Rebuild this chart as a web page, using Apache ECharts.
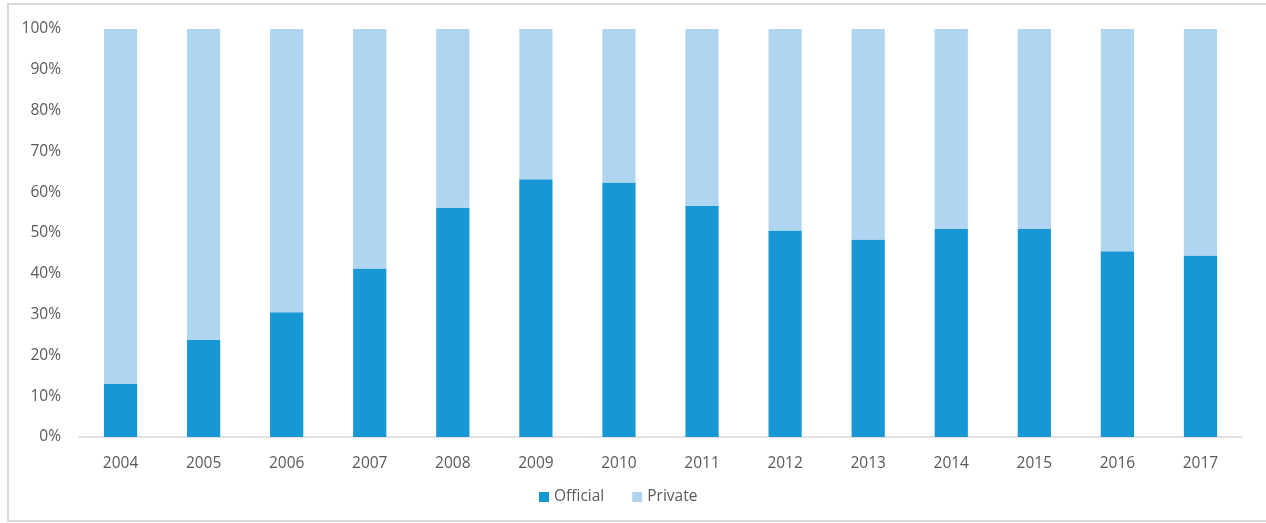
<!DOCTYPE html>
<html>
<head>
<meta charset="utf-8">
<script src="https://cdn.jsdelivr.net/npm/echarts@6/dist/echarts.min.js"></script>
<style>
html,body{margin:0;padding:0;background:#fff;}
#chart{width:1266px;height:523px;}
</style>
</head>
<body>
<div id="chart"></div>
<script>
const years = ['2004','2005','2006','2007','2008','2009','2010','2011','2012','2013','2014','2015','2016','2017'];
const official = [13.0, 23.8, 30.6, 41.3, 56.2, 63.2, 62.4, 56.7, 50.6, 48.4, 51.0, 51.0, 45.5, 44.5];
const privateShare = [87.0, 76.2, 69.4, 58.7, 43.8, 36.8, 37.6, 43.3, 49.4, 51.6, 49.0, 49.0, 54.5, 55.5];
const seriesNames = ['Official', 'Private'];

const chart = echarts.init(document.getElementById('chart'), null, {renderer: 'canvas'});
const font = '"Open Sans", "Noto Sans", sans-serif';
chart.setOption({
  animation: false,
  textStyle: {fontFamily: font},
  graphic: [{
    type: 'rect',
    shape: {x: 8, y: 4, width: 1270, height: 517},
    style: {fill: 'none', stroke: '#d9d9d9', lineWidth: 2},
    silent: true, z: -10
  }],
  grid: {left: 79, right: 24, top: 29, bottom: 86},
  legend: {
    data: seriesNames,
    bottom: 13,
    left: 534,
    itemWidth: 10,
    itemHeight: 10,
    itemGap: 28,
    icon: 'rect',
    textStyle: {fontFamily: font, fontSize: 15.5, color: '#595959'}
  },
  xAxis: {
    type: 'category',
    data: years,
    axisLine: {lineStyle: {color: '#d9d9d9', width: 1.5}},
    axisTick: {show: false},
    axisLabel: {fontFamily: font, fontSize: 15.5, color: '#595959', margin: 19}
  },
  yAxis: {
    type: 'value',
    min: 0, max: 100, interval: 10,
    splitLine: {show: false},
    axisLine: {show: false},
    axisTick: {show: false},
    axisLabel: {fontFamily: font, fontSize: 15.5, color: '#595959', margin: 18, formatter: '{value}%'}
  },
  series: [
    {name: seriesNames[0], type: 'bar', stack: 'total', data: official, barWidth: '40%',
     itemStyle: {color: '#1797d4'}},
    {name: seriesNames[1], type: 'bar', stack: 'total', data: privateShare, barWidth: '40%',
     itemStyle: {color: '#b0d5f0'}}
  ]
});
</script>
</body>
</html>
